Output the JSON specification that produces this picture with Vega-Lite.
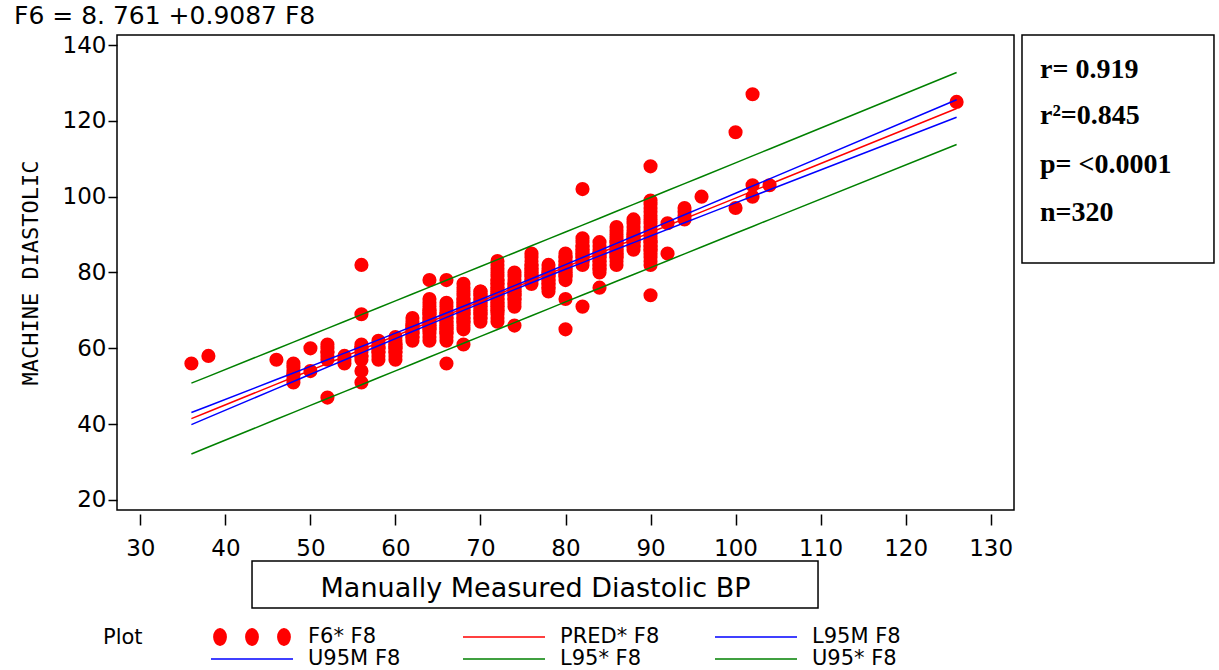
{
  "$schema": "https://vega.github.io/schema/vega-lite/v6.json",
  "width": 897,
  "height": 475,
  "autosize": {"type": "none"},
  "padding": {"left": 117, "top": 35, "right": 205, "bottom": 160},
  "background": "white",
  "title": {"text": "F6 = 8. 761 +0.9087 F8", "anchor": "start", "frame": "group", "dx": -103, "dy": 24, "offset": 9, "baseline": "alphabetic", "font": "DejaVu Sans", "fontSize": 25, "fontWeight": "normal", "color": "black"},
  "config": {
    "font": "DejaVu Sans",
    "view": {"stroke": "black", "strokeWidth": 1.5},
    "axis": {"grid": false, "domain": false, "tickColor": "black", "tickWidth": 1.5, "labelColor": "black", "labelFont": "DejaVu Sans", "labelFontSize": 23, "titleColor": "black"},
    "legend": {
      "orient": "none", "legendX": -14, "legendY": 592,
      "direction": "horizontal", "columns": 3, "gridAlign": "all",
      "titleOrient": "left", "titleAnchor": "start", "titleBaseline": "top",
      "titleFont": "DejaVu Sans", "titleFontSize": 21, "titleFontWeight": "normal", "titleColor": "black", "titlePadding": 67,
      "labelFont": "DejaVu Sans", "labelFontSize": 21, "labelColor": "black", "labelOffset": 14,
      "symbolSize": 6724, "symbolStrokeWidth": 1.5, "clipHeight": 20,
      "columnPadding": 54, "rowPadding": 1
    }
  },
  "datasets": {
    "obs": [
      {"x":36,"y":56},{"x":38,"y":58},{"x":46,"y":57},
      {"x":48,"y":51},{"x":48,"y":52},{"x":48,"y":53},{"x":48,"y":54},{"x":48,"y":55},{"x":48,"y":56},{"x":48,"y":53},
      {"x":50,"y":54},{"x":50,"y":60},
      {"x":52,"y":57},{"x":52,"y":58},{"x":52,"y":59},{"x":52,"y":60},{"x":52,"y":61},{"x":52,"y":47},{"x":52,"y":59},
      {"x":54,"y":56},{"x":54,"y":57},{"x":54,"y":58},
      {"x":56,"y":57},{"x":56,"y":58},{"x":56,"y":59},{"x":56,"y":60},{"x":56,"y":61},{"x":56,"y":54},{"x":56,"y":51},{"x":56,"y":69},{"x":56,"y":82},{"x":56,"y":58},{"x":56,"y":60},
      {"x":58,"y":57},{"x":58,"y":58},{"x":58,"y":59},{"x":58,"y":60},{"x":58,"y":61},{"x":58,"y":62},{"x":58,"y":59},{"x":58,"y":60},
      {"x":60,"y":57},{"x":60,"y":58},{"x":60,"y":59},{"x":60,"y":60},{"x":60,"y":61},{"x":60,"y":62},{"x":60,"y":63},{"x":60,"y":59},{"x":60,"y":60},{"x":60,"y":61},
      {"x":62,"y":62},{"x":62,"y":63},{"x":62,"y":64},{"x":62,"y":65},{"x":62,"y":66},{"x":62,"y":67},{"x":62,"y":68},{"x":62,"y":63},{"x":62,"y":64},{"x":62,"y":65},{"x":62,"y":66},
      {"x":64,"y":62},{"x":64,"y":63},{"x":64,"y":64},{"x":64,"y":65},{"x":64,"y":66},{"x":64,"y":67},{"x":64,"y":68},{"x":64,"y":69},{"x":64,"y":70},{"x":64,"y":71},{"x":64,"y":72},{"x":64,"y":73},{"x":64,"y":78},{"x":64,"y":65},{"x":64,"y":66},{"x":64,"y":67},{"x":64,"y":68},{"x":64,"y":69},{"x":64,"y":70},
      {"x":66,"y":62},{"x":66,"y":63},{"x":66,"y":64},{"x":66,"y":65},{"x":66,"y":66},{"x":66,"y":67},{"x":66,"y":68},{"x":66,"y":69},{"x":66,"y":70},{"x":66,"y":71},{"x":66,"y":72},{"x":66,"y":78},{"x":66,"y":56},{"x":66,"y":64},{"x":66,"y":65},{"x":66,"y":66},{"x":66,"y":67},{"x":66,"y":68},{"x":66,"y":69},
      {"x":68,"y":65},{"x":68,"y":66},{"x":68,"y":67},{"x":68,"y":68},{"x":68,"y":69},{"x":68,"y":70},{"x":68,"y":71},{"x":68,"y":72},{"x":68,"y":73},{"x":68,"y":74},{"x":68,"y":75},{"x":68,"y":76},{"x":68,"y":77},{"x":68,"y":61},{"x":68,"y":67},{"x":68,"y":68},{"x":68,"y":69},{"x":68,"y":70},{"x":68,"y":71},{"x":68,"y":72},{"x":68,"y":73},
      {"x":70,"y":67},{"x":70,"y":68},{"x":70,"y":69},{"x":70,"y":70},{"x":70,"y":71},{"x":70,"y":72},{"x":70,"y":73},{"x":70,"y":74},{"x":70,"y":75},{"x":70,"y":68},{"x":70,"y":69},{"x":70,"y":70},{"x":70,"y":71},{"x":70,"y":72},{"x":70,"y":73},{"x":70,"y":74},{"x":70,"y":75},
      {"x":72,"y":67},{"x":72,"y":68},{"x":72,"y":69},{"x":72,"y":70},{"x":72,"y":71},{"x":72,"y":72},{"x":72,"y":73},{"x":72,"y":74},{"x":72,"y":75},{"x":72,"y":76},{"x":72,"y":77},{"x":72,"y":78},{"x":72,"y":79},{"x":72,"y":80},{"x":72,"y":81},{"x":72,"y":82},{"x":72,"y":83},{"x":72,"y":70},{"x":72,"y":71},{"x":72,"y":72},{"x":72,"y":73},{"x":72,"y":74},{"x":72,"y":75},{"x":72,"y":76},{"x":72,"y":77},{"x":72,"y":78},
      {"x":74,"y":71},{"x":74,"y":72},{"x":74,"y":73},{"x":74,"y":74},{"x":74,"y":75},{"x":74,"y":76},{"x":74,"y":77},{"x":74,"y":78},{"x":74,"y":79},{"x":74,"y":80},{"x":74,"y":66},{"x":74,"y":73},{"x":74,"y":74},{"x":74,"y":75},{"x":74,"y":76},{"x":74,"y":77},
      {"x":76,"y":77},{"x":76,"y":78},{"x":76,"y":79},{"x":76,"y":80},{"x":76,"y":81},{"x":76,"y":82},{"x":76,"y":83},{"x":76,"y":84},{"x":76,"y":85},{"x":76,"y":78},{"x":76,"y":79},{"x":76,"y":80},{"x":76,"y":81},{"x":76,"y":82},
      {"x":78,"y":75},{"x":78,"y":76},{"x":78,"y":77},{"x":78,"y":78},{"x":78,"y":79},{"x":78,"y":80},{"x":78,"y":81},{"x":78,"y":82},{"x":78,"y":76},{"x":78,"y":77},{"x":78,"y":78},{"x":78,"y":79},{"x":78,"y":80},
      {"x":80,"y":78},{"x":80,"y":79},{"x":80,"y":80},{"x":80,"y":81},{"x":80,"y":82},{"x":80,"y":83},{"x":80,"y":84},{"x":80,"y":85},{"x":80,"y":73},{"x":80,"y":65},{"x":80,"y":79},{"x":80,"y":80},{"x":80,"y":81},{"x":80,"y":82},{"x":80,"y":83},{"x":80,"y":84},
      {"x":82,"y":82},{"x":82,"y":83},{"x":82,"y":84},{"x":82,"y":85},{"x":82,"y":86},{"x":82,"y":87},{"x":82,"y":88},{"x":82,"y":89},{"x":82,"y":102},{"x":82,"y":71},{"x":82,"y":83},{"x":82,"y":84},{"x":82,"y":85},{"x":82,"y":86},{"x":82,"y":87},
      {"x":84,"y":80},{"x":84,"y":81},{"x":84,"y":82},{"x":84,"y":83},{"x":84,"y":84},{"x":84,"y":85},{"x":84,"y":86},{"x":84,"y":87},{"x":84,"y":88},{"x":84,"y":76},{"x":84,"y":81},{"x":84,"y":82},{"x":84,"y":83},{"x":84,"y":84},{"x":84,"y":85},
      {"x":86,"y":82},{"x":86,"y":83},{"x":86,"y":84},{"x":86,"y":85},{"x":86,"y":86},{"x":86,"y":87},{"x":86,"y":88},{"x":86,"y":89},{"x":86,"y":90},{"x":86,"y":91},{"x":86,"y":92},{"x":86,"y":84},{"x":86,"y":85},{"x":86,"y":86},{"x":86,"y":87},{"x":86,"y":88},
      {"x":88,"y":86},{"x":88,"y":87},{"x":88,"y":88},{"x":88,"y":89},{"x":88,"y":90},{"x":88,"y":91},{"x":88,"y":92},{"x":88,"y":93},{"x":88,"y":94},{"x":88,"y":87},{"x":88,"y":88},{"x":88,"y":89},{"x":88,"y":90},
      {"x":90,"y":83},{"x":90,"y":84},{"x":90,"y":85},{"x":90,"y":86},{"x":90,"y":87},{"x":90,"y":88},{"x":90,"y":89},{"x":90,"y":90},{"x":90,"y":91},{"x":90,"y":92},{"x":90,"y":93},{"x":90,"y":94},{"x":90,"y":95},{"x":90,"y":96},{"x":90,"y":97},{"x":90,"y":98},{"x":90,"y":99},{"x":90,"y":82},{"x":90,"y":74},{"x":90,"y":108},{"x":90,"y":86},{"x":90,"y":87},{"x":90,"y":88},
      {"x":92,"y":93},{"x":92,"y":85},
      {"x":94,"y":94},{"x":94,"y":95},{"x":94,"y":96},{"x":94,"y":97},
      {"x":96,"y":100},
      {"x":100,"y":97},{"x":100,"y":117},
      {"x":102,"y":100},{"x":102,"y":103},{"x":102,"y":127},
      {"x":104,"y":103},
      {"x":126,"y":125}
    ],
    "fit": [
      {"x":36,"pred":41.47,"l95m":39.89,"u95m":43.06,"l95":32.14,"u95":50.81},
      {"x":38,"pred":43.29,"l95m":41.79,"u95m":44.79,"l95":33.97,"u95":52.61},
      {"x":46,"pred":50.56,"l95m":49.37,"u95m":51.76,"l95":41.28,"u95":59.84},
      {"x":48,"pred":52.38,"l95m":51.26,"u95m":53.50,"l95":43.11,"u95":61.65},
      {"x":50,"pred":54.20,"l95m":53.15,"u95m":55.24,"l95":44.94,"u95":63.46},
      {"x":52,"pred":56.01,"l95m":55.04,"u95m":56.99,"l95":46.76,"u95":65.27},
      {"x":54,"pred":57.83,"l95m":56.92,"u95m":58.74,"l95":48.59,"u95":67.08},
      {"x":56,"pred":59.65,"l95m":58.81,"u95m":60.49,"l95":50.41,"u95":68.89},
      {"x":58,"pred":61.47,"l95m":60.69,"u95m":62.24,"l95":52.23,"u95":70.70},
      {"x":60,"pred":63.28,"l95m":62.57,"u95m":64.00,"l95":54.06,"u95":72.51},
      {"x":62,"pred":65.10,"l95m":64.44,"u95m":65.76,"l95":55.88,"u95":74.32},
      {"x":64,"pred":66.92,"l95m":66.31,"u95m":67.53,"l95":57.70,"u95":76.14},
      {"x":66,"pred":68.74,"l95m":68.16,"u95m":69.31,"l95":59.52,"u95":77.95},
      {"x":68,"pred":70.55,"l95m":70.01,"u95m":71.09,"l95":61.34,"u95":79.77},
      {"x":70,"pred":72.37,"l95m":71.85,"u95m":72.89,"l95":63.16,"u95":81.59},
      {"x":72,"pred":74.19,"l95m":73.67,"u95m":74.70,"l95":64.97,"u95":83.40},
      {"x":74,"pred":76.01,"l95m":75.48,"u95m":76.53,"l95":66.79,"u95":85.22},
      {"x":76,"pred":77.82,"l95m":77.28,"u95m":78.36,"l95":68.61,"u95":87.04},
      {"x":78,"pred":79.64,"l95m":79.07,"u95m":80.21,"l95":70.42,"u95":88.86},
      {"x":80,"pred":81.46,"l95m":80.85,"u95m":82.07,"l95":72.24,"u95":90.68},
      {"x":82,"pred":83.27,"l95m":82.61,"u95m":83.94,"l95":74.05,"u95":92.50},
      {"x":84,"pred":85.09,"l95m":84.38,"u95m":85.81,"l95":75.86,"u95":94.32},
      {"x":86,"pred":86.91,"l95m":86.13,"u95m":87.69,"l95":77.68,"u95":96.14},
      {"x":88,"pred":88.73,"l95m":87.89,"u95m":89.57,"l95":79.49,"u95":97.97},
      {"x":90,"pred":90.54,"l95m":89.64,"u95m":91.45,"l95":81.30,"u95":99.79},
      {"x":92,"pred":92.36,"l95m":91.38,"u95m":93.34,"l95":83.11,"u95":101.61},
      {"x":94,"pred":94.18,"l95m":93.13,"u95m":95.23,"l95":84.92,"u95":103.44},
      {"x":96,"pred":96.00,"l95m":94.88,"u95m":97.12,"l95":86.73,"u95":105.26},
      {"x":100,"pred":99.63,"l95m":98.36,"u95m":100.90,"l95":90.34,"u95":108.92},
      {"x":102,"pred":101.45,"l95m":100.10,"u95m":102.80,"l95":92.15,"u95":110.75},
      {"x":104,"pred":103.27,"l95m":101.84,"u95m":104.69,"l95":93.96,"u95":112.58},
      {"x":126,"pred":123.26,"l95m":120.96,"u95m":125.56,"l95":113.77,"u95":132.74}
    ]
  },
  "layer": [
    {
      "data": {"name": "obs"},
      "mark": {"type": "point", "shape": "circle", "filled": true, "size": 200, "opacity": 1},
      "encoding": {
        "x": {"field": "x", "type": "quantitative",
          "scale": {"domain": [27.25, 132.75], "nice": false, "zero": false},
          "axis": {"values": [30,40,50,60,70,80,90,100,110,120,130], "title": "Manually Measured Diastolic BP", "titleFont": "DejaVu Sans", "titleFontSize": 27, "titleFontWeight": "normal", "offset": 4, "tickSize": 11, "labelPadding": 12, "titleX": 418, "titleY": 74, "titleBaseline": "middle", "titleAlign": "center"}},
        "y": {"field": "y", "type": "quantitative",
          "scale": {"domain": [17.36, 142.64], "nice": false, "zero": false},
          "axis": {"values": [20,40,60,80,100,120,140], "title": "MACHINE DIASTOLIC", "titleFont": "DejaVu Sans Mono", "titleFontSize": 22, "titleFontWeight": "normal", "titlePadding": 20, "tickSize": 9, "labelPadding": 2}},
        "color": {"datum": "F6* F8", "type": "nominal",
          "scale": {"domain": ["F6* F8", "PRED* F8", "L95M F8", "U95M F8", "L95* F8", "U95* F8"], "range": ["#FF0000", "#FF0000", "#0000FF", "#0000FF", "#008000", "#008000"]},
          "legend": {"title": "Plot",
            "symbolType": {"expr": "datum.value === 'F6* F8' ? 'M-0.93,0a0.15,0.2 0 1,0 0.3,0a0.15,0.2 0 1,0 -0.3,0Z M-0.15,0a0.15,0.2 0 1,0 0.3,0a0.15,0.2 0 1,0 -0.3,0Z M0.63,0a0.15,0.2 0 1,0 0.3,0a0.15,0.2 0 1,0 -0.3,0Z' : 'stroke'"},
            "symbolStrokeColor": {"expr": "(datum.value === 'F6* F8' || datum.value === 'PRED* F8') ? '#FF0000' : ((datum.value === 'L95M F8' || datum.value === 'U95M F8') ? '#0000FF' : '#008000')"},
            "symbolStrokeWidth": 1.5,
            "encode": {"symbols": {
              "shape": {"value": {"expr": "datum.value === 'F6* F8' ? 'M-0.93,0a0.15,0.2 0 1,0 0.3,0a0.15,0.2 0 1,0 -0.3,0Z M-0.15,0a0.15,0.2 0 1,0 0.3,0a0.15,0.2 0 1,0 -0.3,0Z M0.63,0a0.15,0.2 0 1,0 0.3,0a0.15,0.2 0 1,0 -0.3,0Z' : 'stroke'"}},
              "stroke": {"value": {"expr": "(datum.value === 'F6* F8' || datum.value === 'PRED* F8') ? '#FF0000' : ((datum.value === 'L95M F8' || datum.value === 'U95M F8') ? '#0000FF' : '#008000')"}},
              "strokeWidth": {"value": 1.5}
            }}}}
      }
    },
    {"data": {"name": "fit"}, "mark": {"type": "line", "strokeWidth": 1.5, "color": "#008000"},
     "encoding": {"x": {"field": "x", "type": "quantitative"}, "y": {"field": "l95", "type": "quantitative"}}},
    {"data": {"name": "fit"}, "mark": {"type": "line", "strokeWidth": 1.5, "color": "#008000"},
     "encoding": {"x": {"field": "x", "type": "quantitative"}, "y": {"field": "u95", "type": "quantitative"}}},
    {"data": {"name": "fit"}, "mark": {"type": "line", "strokeWidth": 1.5, "color": "#FF0000"},
     "encoding": {"x": {"field": "x", "type": "quantitative"}, "y": {"field": "pred", "type": "quantitative"}}},
    {"data": {"name": "fit"}, "mark": {"type": "line", "strokeWidth": 1.5, "color": "#0000FF"},
     "encoding": {"x": {"field": "x", "type": "quantitative"}, "y": {"field": "l95m", "type": "quantitative"}}},
    {"data": {"name": "fit"}, "mark": {"type": "line", "strokeWidth": 1.5, "color": "#0000FF"},
     "encoding": {"x": {"field": "x", "type": "quantitative"}, "y": {"field": "u95m", "type": "quantitative"}}},
    {"data": {"values": [{}]}, "mark": {"type": "rect", "fill": "transparent", "stroke": "black", "strokeWidth": 1.5},
     "encoding": {"x": {"datum": 43.13, "type": "quantitative"}, "x2": {"datum": 109.7}, "y": {"datum": 3.91, "type": "quantitative"}, "y2": {"datum": -8.48}}},
    {"data": {"values": [{}]}, "mark": {"type": "rect", "fill": "transparent", "stroke": "black", "strokeWidth": 1.5},
     "encoding": {"x": {"datum": 133.69, "type": "quantitative"}, "x2": {"datum": 156.27}, "y": {"datum": 142.64, "type": "quantitative"}, "y2": {"datum": 82.48}}},
    {"data": {"values": [{}]}, "mark": {"type": "text", "text": "r= 0.919", "align": "left", "baseline": "middle", "font": "Liberation Serif", "fontSize": 28, "fontWeight": "bold", "color": "black"},
     "encoding": {"x": {"datum": 135.81, "type": "quantitative"}, "y": {"datum": 133.41, "type": "quantitative"}}},
    {"data": {"values": [{}]}, "mark": {"type": "text", "text": "r²=0.845", "align": "left", "baseline": "middle", "font": "Liberation Serif", "fontSize": 28, "fontWeight": "bold", "color": "black"},
     "encoding": {"x": {"datum": 135.81, "type": "quantitative"}, "y": {"datum": 121.28, "type": "quantitative"}}},
    {"data": {"values": [{}]}, "mark": {"type": "text", "text": "p= <0.0001", "align": "left", "baseline": "middle", "font": "Liberation Serif", "fontSize": 28, "fontWeight": "bold", "color": "black"},
     "encoding": {"x": {"datum": 135.81, "type": "quantitative"}, "y": {"datum": 108.35, "type": "quantitative"}}},
    {"data": {"values": [{}]}, "mark": {"type": "text", "text": "n=320", "align": "left", "baseline": "middle", "font": "Liberation Serif", "fontSize": 28, "fontWeight": "bold", "color": "black"},
     "encoding": {"x": {"datum": 135.81, "type": "quantitative"}, "y": {"datum": 95.69, "type": "quantitative"}}}
  ]
}
